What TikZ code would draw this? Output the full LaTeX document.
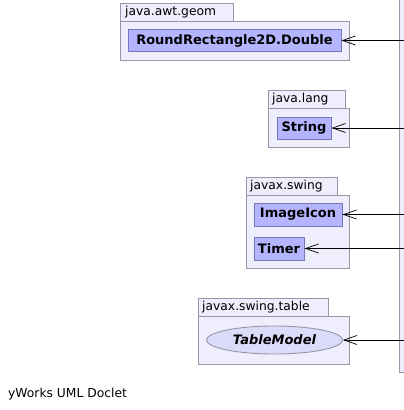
\documentclass[tikz,border=0pt]{standalone}
\usepackage{fontspec}
\setmainfont{DejaVu Sans}
\usetikzlibrary{arrows.meta,shapes.geometric}
\definecolor{pkgfill}{RGB}{238,238,252}
\definecolor{pkgline}{RGB}{150,150,168}
\definecolor{clsfill}{RGB}{180,180,255}
\definecolor{clsline}{RGB}{118,118,178}
\definecolor{ifcfill}{RGB}{220,220,250}
\tikzset{
  pkg/.style={draw=pkgline,fill=pkgfill,line width=0.9pt},
  pkgname/.style={anchor=west,inner sep=0pt,font=\fontsize{12.3}{14}\selectfont},
  cls/.style={draw=clsline,fill=clsfill,line width=0.9pt,inner sep=0pt,
    font=\fontsize{13}{15}\selectfont\bfseries},
  ifc/.style={cls,ellipse,draw=pkgline,fill=ifcfill,font=\fontsize{13}{15}\selectfont\bfseries\itshape},
  uses/.style={draw,line width=0.8pt,-{Straight Barb[length=13pt,width=9pt,line width=0.7pt]}}
}
\begin{document}
\begin{tikzpicture}[x=1pt,y=-1pt]
\useasboundingbox (0,0) rectangle (404,410);
% package on the right, mostly off the page
\draw[pkg] (399.5,-5) rectangle (440,372);
% java.awt.geom
\draw[pkg] (120.5,3.5) rectangle (233,21);
\draw[pkg] (120.5,21) rectangle (349,60);
\node[pkgname] (awtgeom) at (125,12.5) {java.awt.geom};
\node[cls,minimum width=213pt,minimum height=22pt] (round) at (234.5,40.5) {RoundRectangle2D.Double};
% java.lang
\draw[pkg] (268,90) rectangle (345,108);
\draw[pkg] (268,108) rectangle (349,147);
\node[pkgname] (lang) at (272,99) {java.lang};
\node[cls,minimum width=54pt,minimum height=22pt] (string) at (304,128) {String};
% javax.swing
\draw[pkg] (246,177) rectangle (337,195);
\draw[pkg] (246,195) rectangle (349,268);
\node[pkgname] (swing) at (250,186) {javax.swing};
\node[cls,minimum width=88pt,minimum height=23pt] (icon) at (298,214.5) {ImageIcon};
\node[cls,minimum width=50pt,minimum height=23pt] (timer) at (279,248.5) {Timer};
% javax.swing.table
\draw[pkg] (198,298) rectangle (328,316);
\draw[pkg] (198,316) rectangle (349,364);
\node[pkgname] (table) at (202,307.5) {javax.swing.table};
\node[ifc,minimum width=136pt,minimum height=28pt] (model) at (274.5,340) {TableModel};
% dependencies
\coordinate (s1) at (420,40.5);
\coordinate (s2) at (420,128);
\coordinate (s3) at (420,214.5);
\coordinate (s4) at (420,248.5);
\coordinate (s5) at (420,340);
\draw[uses] (s1) -- (round);
\draw[uses] (s2) -- (string);
\draw[uses] (s3) -- (icon);
\draw[uses] (s4) -- (timer);
\draw[uses] (s5) -- (model);
\node[anchor=base west,inner sep=0pt,font=\fontsize{12.3}{14}\selectfont] (doclet) at (8,397) {yWorks UML Doclet};
\end{tikzpicture}
\end{document}
